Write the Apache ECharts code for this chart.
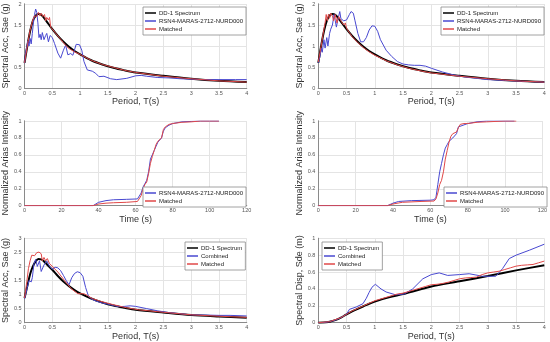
<!DOCTYPE html>
<html><head><meta charset="utf-8">
<script src="https://cdn.jsdelivr.net/npm/echarts@6/dist/echarts.min.js"></script>
<style>html,body{margin:0;padding:0;background:#fff}#c{width:550px;height:342px}</style>
</head><body><div id="c"></div>
<script>
// ---- Panel 1 (NURD000) spectral acceleration ----
const dd1T = [0,0.05,0.1,0.15,0.2,0.25,0.3,0.35,0.4,0.5,0.6,0.7,0.8,0.9,1.0,1.2,1.4,1.6,1.8,2.0,2.5,3.0,3.5,4.0];
const dd1Sa = [0.6,1.0,1.35,1.6,1.72,1.76,1.74,1.67,1.58,1.40,1.24,1.1,0.98,0.88,0.8,0.66,0.56,0.48,0.42,0.37,0.29,0.22,0.17,0.14];
const rec000T = [0,0.02,0.04,0.06,0.08,0.1,0.12,0.14,0.16,0.18,0.2,0.22,0.24,0.26,0.28,0.3,0.32,0.35,0.38,0.4,0.43,0.46,0.5,0.54,0.6,0.65,0.7,0.74,0.78,0.83,0.87,0.93,0.99,1.03,1.07,1.13,1.22,1.28,1.34,1.43,1.55,1.66,1.84,2.0,2.1,2.2,2.4,2.6,2.8,3.0,3.2,3.5,3.8,4.0];
const rec000Sa = [0.59,0.85,0.98,1.12,1.0,1.18,1.05,1.3,1.55,1.75,1.88,1.8,1.55,1.2,1.28,1.15,1.32,1.15,1.25,1.3,1.1,1.25,1.2,1.06,0.83,0.71,0.9,1.02,0.79,0.82,0.78,1.04,1.03,0.9,0.63,0.43,0.4,0.35,0.27,0.28,0.22,0.2,0.23,0.29,0.3,0.28,0.25,0.24,0.22,0.21,0.2,0.2,0.2,0.2];
const mat000T = [0,0.05,0.1,0.15,0.18,0.2,0.22,0.25,0.28,0.3,0.33,0.36,0.38,0.4,0.43,0.45,0.47,0.5,0.6,0.7,0.75,0.8,0.85,0.9,1.0,1.2,1.4,1.6,1.8,2.0,2.5,3.0,3.5,4.0];
const mat000Sa = [0.6,1.0,1.38,1.62,1.72,1.76,1.7,1.8,1.72,1.78,1.7,1.75,1.6,1.68,1.62,1.68,1.45,1.42,1.24,1.08,1.0,0.94,0.9,0.86,0.8,0.66,0.56,0.49,0.42,0.37,0.28,0.22,0.17,0.14];
// ---- Panel 2 (NURD090) ----
const rec090T = [0,0.03,0.05,0.07,0.1,0.12,0.15,0.17,0.2,0.22,0.25,0.28,0.3,0.32,0.35,0.38,0.4,0.45,0.5,0.55,0.58,0.62,0.65,0.7,0.75,0.8,0.85,0.9,0.95,1.0,1.05,1.1,1.2,1.3,1.4,1.5,1.6,1.7,1.8,1.9,2.0,2.2,2.4,2.6,2.8,3.0,3.3,3.6,4.0];
const rec090Sa = [0.6,0.75,0.95,0.85,1.15,0.95,1.2,1.0,1.3,1.4,1.5,1.75,1.6,1.45,1.65,1.82,1.65,1.6,1.62,1.75,1.82,1.78,1.6,1.3,1.1,1.1,1.2,1.38,1.48,1.47,1.35,1.15,0.9,0.75,0.63,0.57,0.55,0.54,0.54,0.52,0.47,0.38,0.31,0.26,0.23,0.2,0.18,0.16,0.14];
const mat090T = [0,0.05,0.1,0.12,0.14,0.16,0.18,0.2,0.22,0.25,0.27,0.3,0.33,0.36,0.4,0.45,0.48,0.5,0.55,0.6,0.7,0.8,0.9,1.0,1.2,1.4,1.6,1.8,2.0,2.5,3.0,3.5,4.0];
const mat090Sa = [0.62,1.0,1.4,1.55,1.75,1.6,1.76,1.66,1.78,1.72,1.6,1.75,1.55,1.7,1.6,1.5,1.55,1.42,1.32,1.22,1.08,0.96,0.86,0.78,0.65,0.55,0.47,0.41,0.36,0.28,0.22,0.17,0.14];
// ---- Panel 3/4 Arias intensity ----
const ar000T = [0,37,38,40,44,48,55,61,62,63,64,65,66,67,68,69,70,71,72,73,74,75,76,78,80,85,90,95,100,105];
const ar000Rec = [0,0,0.01,0.04,0.06,0.07,0.075,0.08,0.1,0.15,0.22,0.26,0.3,0.4,0.55,0.6,0.65,0.7,0.75,0.77,0.8,0.88,0.92,0.95,0.97,0.99,0.995,1,1,1];
const ar000Mat = [0,0,0.005,0.02,0.03,0.035,0.04,0.05,0.07,0.12,0.2,0.25,0.28,0.38,0.5,0.58,0.65,0.72,0.76,0.78,0.8,0.9,0.93,0.96,0.97,0.985,0.99,1,1,1];
const ar090RecT = [0,37,40,43,50,60,62,63,64,65,66,67,68,69,70,72,73,74,75,76,80,85,90,100,105];
const ar090Rec = [0,0,0.03,0.05,0.06,0.065,0.07,0.1,0.25,0.4,0.5,0.6,0.68,0.72,0.76,0.8,0.82,0.85,0.93,0.95,0.97,0.99,1,1,1];
const ar090MatT = [0,37,40,45,55,62,63,64,65,66,67,68,69,70,71,72,74,75,76,78,80,85,90,100,106];
const ar090Mat = [0,0,0.02,0.04,0.05,0.055,0.08,0.15,0.25,0.3,0.4,0.55,0.65,0.75,0.82,0.85,0.87,0.92,0.96,0.97,0.97,0.985,0.99,1,1];
// ---- Panel 5 combined spectral acceleration ----
const dd1cSa = [0.88,1.3,1.72,2.0,2.18,2.26,2.25,2.18,2.08,1.88,1.66,1.46,1.3,1.16,1.04,0.86,0.72,0.61,0.53,0.46,0.36,0.27,0.22,0.18];
const combT = [0,0.05,0.08,0.1,0.12,0.14,0.17,0.2,0.23,0.27,0.3,0.35,0.4,0.45,0.5,0.55,0.6,0.65,0.7,0.75,0.8,0.85,0.9,0.95,1.0,1.05,1.1,1.15,1.2,1.25,1.3,1.4,1.5,1.6,1.7,1.8,1.9,2.0,2.2,2.4,2.6,2.8,3.0,3.3,3.5,3.7,4.0];
const combSa = [0.85,1.25,1.5,1.55,1.45,1.6,2.1,2.25,2.0,2.2,1.82,2.05,2.2,2.0,1.9,1.97,1.95,1.85,1.68,1.5,1.35,1.6,1.75,1.81,1.78,1.65,1.25,0.95,0.85,0.8,0.76,0.7,0.66,0.61,0.57,0.58,0.6,0.58,0.5,0.42,0.36,0.32,0.28,0.27,0.26,0.26,0.24];
const matCT = [0,0.04,0.07,0.1,0.13,0.18,0.22,0.26,0.3,0.32,0.35,0.38,0.41,0.45,0.51,0.6,0.72,0.84,0.96,1.07,1.13,1.22,1.37,1.6,1.84,2.05,2.5,3.0,3.5,4.0];
const matCSa = [0.88,1.45,1.92,2.2,2.4,2.38,2.49,2.51,2.45,2.2,2.32,2.2,2.28,2.1,1.98,1.8,1.5,1.21,1.03,1.03,0.97,0.86,0.76,0.64,0.53,0.46,0.37,0.28,0.23,0.19];
// ---- Panel 6 spectral displacement ----
const sdT = [0,0.1,0.2,0.3,0.4,0.5,0.6,0.7,0.8,0.9,1.0,1.25,1.5,1.75,2.0,2.5,3.0,3.5,4.0];
const sdDD1 = [0,0.002,0.012,0.03,0.06,0.1,0.135,0.165,0.195,0.225,0.25,0.3,0.34,0.385,0.43,0.49,0.553,0.62,0.68];
const sdCombT = [0,0.1,0.2,0.3,0.4,0.5,0.55,0.67,0.79,0.85,0.9,0.95,1.01,1.11,1.2,1.37,1.52,1.67,1.85,2.0,2.14,2.29,2.5,2.67,2.79,2.91,3.14,3.26,3.38,3.5,3.74,4.0];
const sdComb = [0,0.002,0.012,0.03,0.06,0.1,0.158,0.186,0.225,0.29,0.36,0.42,0.455,0.4,0.364,0.33,0.34,0.4,0.52,0.57,0.59,0.56,0.57,0.58,0.565,0.55,0.55,0.64,0.76,0.8,0.86,0.93];
const sdMatT = [0,0.2,0.4,0.5,0.6,0.7,0.8,0.9,1.0,1.1,1.2,1.3,1.4,1.5,1.6,1.7,1.8,1.9,2.0,2.1,2.2,2.3,2.4,2.5,2.6,2.7,2.8,2.9,3.0,3.1,3.2,3.3,3.4,3.5,3.6,3.7,3.8,3.9,4.0];
const sdMat = [0,0.012,0.06,0.1,0.14,0.17,0.2,0.23,0.26,0.28,0.3,0.32,0.34,0.35,0.37,0.39,0.41,0.43,0.45,0.455,0.465,0.48,0.5,0.52,0.53,0.535,0.54,0.57,0.59,0.6,0.61,0.63,0.65,0.67,0.68,0.685,0.69,0.71,0.73];

const BLUE = '#4848d0', RED = '#e04848', BLACK = '#000000';
const pair = (xs, ys) => xs.map((x, i) => [x, ys[i]]);

const grids = [
  {left: 20.7, top: 4, width: 226, height: 84},
  {left: 318.3, top: 4, width: 226, height: 84},
  {left: 20.7, top: 121, width: 226, height: 84.7},
  {left: 318.3, top: 121, width: 226, height: 84.7},
  {left: 20.7, top: 238.3, width: 226, height: 84.4},
  {left: 318.3, top: 238.3, width: 226, height: 84.4}
];
const xCfg = [
  {min:0,max:4,interval:0.5,name:'Period, T(s)'},
  {min:0,max:4,interval:0.5,name:'Period, T(s)'},
  {min:0,max:120,interval:20,name:'Time (s)'},
  {min:0,max:120,interval:20,name:'Time (s)'},
  {min:0,max:4,interval:0.5,name:'Period, T(s)'},
  {min:0,max:4,interval:0.5,name:'Period, T(s)'}
];
const yCfg = [
  {min:0,max:2,interval:0.5,name:'Spectral Acc, Sae (g)'},
  {min:0,max:2,interval:0.5,name:'Spectral Acc, Sae (g)'},
  {min:0,max:1,interval:0.2,name:'Normalized Arias Intensity'},
  {min:0,max:1,interval:0.2,name:'Normalized Arias Intensity'},
  {min:0,max:3,interval:0.5,name:'Spectral Acc, Sae (g)'},
  {min:0,max:1,interval:0.2,name:'Spectral Disp, Sde (m)'}
];
const axisCommon = {
  axisLine: {show: true, lineStyle: {color: '#8a8a8a', width: 1}},
  axisTick: {show: false},
  splitLine: {show: true, lineStyle: {color: '#e4e4e4', width: 1}},
  nameLocation: 'middle',
  nameTextStyle: {fontFamily: 'Liberation Sans', fontSize: 9, color: '#333'},
  axisLabel: {fontFamily: 'Liberation Sans', fontSize: 5.5, color: '#555'}
};
const xAxes = xCfg.map((c, i) => Object.assign({}, axisCommon, {
  type: 'value', gridIndex: i, min: c.min, max: c.max, interval: c.interval, name: c.name, nameGap: 8,
  axisLabel: Object.assign({}, axisCommon.axisLabel, {margin: 2})
}));
const yAxes = yCfg.map((c, i) => Object.assign({}, axisCommon, {
  type: 'value', gridIndex: i, min: c.min, max: c.max, interval: c.interval, name: c.name, nameGap: 9,
  axisLabel: Object.assign({}, axisCommon.axisLabel, {margin: 3})
}));
// box (top/right frame) via secondary axes
const frameX = grids.map((g, i) => ({type:'value', gridIndex:i, position:'top', min:0, max:1, axisLine:{show:true,lineStyle:{color:'#8a8a8a'}}, axisTick:{show:false}, axisLabel:{show:false}, splitLine:{show:false}}));
const frameY = grids.map((g, i) => ({type:'value', gridIndex:i, position:'right', min:0, max:1, axisLine:{show:true,lineStyle:{color:'#8a8a8a'}}, axisTick:{show:false}, axisLabel:{show:false}, splitLine:{show:false}}));

function line(name, data, i, color, width) {
  return {name, type: 'line', xAxisIndex: i, yAxisIndex: i, data, showSymbol: false, symbol: 'none',
    lineStyle: {color, width}, itemStyle: {color}, animation: false, z: width > 1.5 ? 2 : 3};
}
const series = [
  line('DD-1 Spectrum', pair(dd1T, dd1Sa), 0, BLACK, 2),
  line('RSN4-MARAS-2712-NURD000', pair(rec000T, rec000Sa), 0, BLUE, 1),
  line('Matched', pair(mat000T, mat000Sa), 0, RED, 1),
  line('DD-1 Spectrum', pair(dd1T, dd1Sa), 1, BLACK, 2),
  line('RSN4-MARAS-2712-NURD090', pair(rec090T, rec090Sa), 1, BLUE, 1),
  line('Matched', pair(mat090T, mat090Sa), 1, RED, 1),
  line('RSN4-MARAS-2712-NURD000', pair(ar000T, ar000Rec), 2, BLUE, 1),
  line('Matched', pair(ar000T, ar000Mat), 2, RED, 1),
  line('RSN4-MARAS-2712-NURD090', pair(ar090RecT, ar090Rec), 3, BLUE, 1),
  line('Matched', pair(ar090MatT, ar090Mat), 3, RED, 1),
  line('DD-1 Spectrum', pair(dd1T, dd1cSa), 4, BLACK, 2),
  line('Combined', pair(combT, combSa), 4, BLUE, 1),
  line('Matched', pair(matCT, matCSa), 4, RED, 1),
  line('DD-1 Spectrum', pair(sdT, sdDD1), 5, BLACK, 2),
  line('Combined', pair(sdCombT, sdComb), 5, BLUE, 1),
  line('Matched', pair(sdMatT, sdMat), 5, RED, 1)
];
series.forEach(s => { if (s.lineStyle.width > 1.5) s.smooth = 0.3; });

function legend(left, top, names) {
  return {
    orient: 'vertical', left, top, data: names.map(n => ({name: n, icon: 'rect'})),
    itemWidth: 11, itemHeight: 1.5, itemGap: 0, padding: [2, 3, 2, 2],
    backgroundColor: '#fff', borderColor: '#8a8a8a', borderWidth: 0.8,
    textStyle: {fontFamily: 'Liberation Sans', fontSize: 6, color: '#222', lineHeight: 8, padding: [0,0,0,-2]},
    selectedMode: false
  };
}
const legends = [
  legend(143, 7, ['DD-1 Spectrum', 'RSN4-MARAS-2712-NURD000', 'Matched']),
  legend(441, 7, ['DD-1 Spectrum', 'RSN4-MARAS-2712-NURD090', 'Matched']),
  legend(143, 187, ['RSN4-MARAS-2712-NURD000', 'Matched']),
  legend(444, 187, ['RSN4-MARAS-2712-NURD090', 'Matched']),
  legend(185, 242, ['DD-1 Spectrum', 'Combined', 'Matched']),
  legend(322, 242, ['DD-1 Spectrum', 'Combined', 'Matched'])
];

const chart = echarts.init(document.getElementById('c'), null, {renderer: 'canvas'});
chart.setOption({
  animation: false,
  backgroundColor: '#fff',
  grid: grids,
  xAxis: xAxes.concat(frameX),
  yAxis: yAxes.concat(frameY),
  legend: legends,
  series
});
</script></body></html>
